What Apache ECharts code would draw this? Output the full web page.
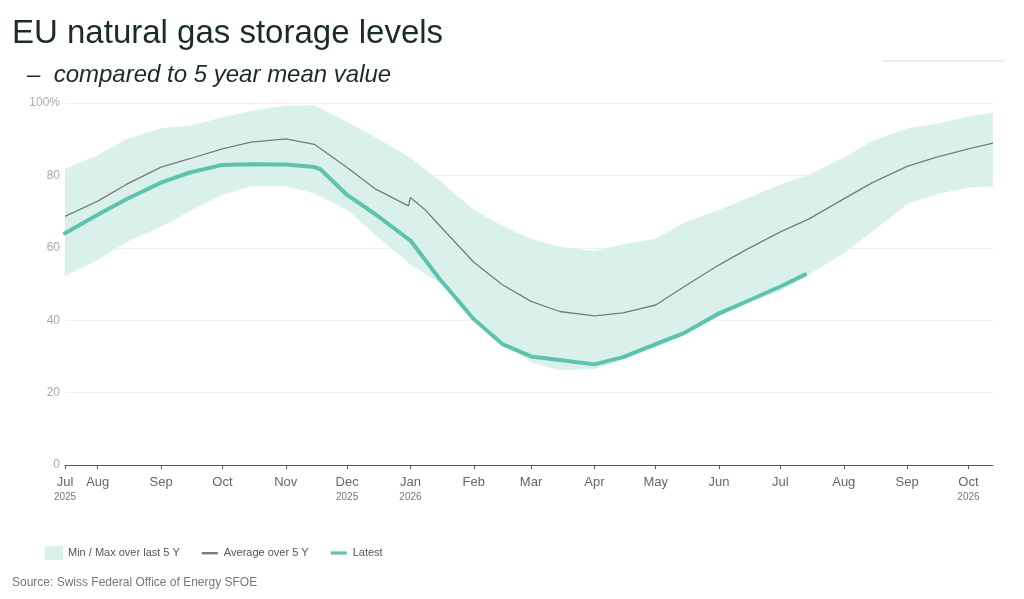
<!DOCTYPE html>
<html lang="en">

<head>
  <meta charset='utf-8'>
  <title>EU natural gas storage levels</title>
  <style>
    html, body { margin: 0; padding: 0; background: #fff; }
  </style>
</head>

<body>
  <div id="myCharts" style="width: 1024px;height:599px;"></div>
  <script src="https://cdn.jsdelivr.net/npm/echarts@6/dist/echarts.min.js"></script>
  <script type="text/javascript">
    // x axis range
    var axisStart = '2025-07-16';
    var axisEnd = '2026-10-13';
    // tick positions and labels on the x axis
    var tickDates = ['2025-07-16', '2025-08-01', '2025-09-01', '2025-10-01', '2025-11-01', '2025-12-01',
      '2026-01-01', '2026-02-01', '2026-03-01', '2026-04-01', '2026-05-01', '2026-06-01',
      '2026-07-01', '2026-08-01', '2026-09-01', '2026-10-01'];
    var tickMonths = ['Jul', 'Aug', 'Sep', 'Oct', 'Nov', 'Dec', 'Jan', 'Feb', 'Mar', 'Apr', 'May', 'Jun',
      'Jul', 'Aug', 'Sep', 'Oct'];
    var tickYears = ['2025', '', '', '', '', '2025', '2026', '', '', '', '', '', '', '', '', '2026'];

    // min / max band over last 5 years
    var bandDates = ['2025-07-16', '2025-08-01', '2025-08-15', '2025-09-01', '2025-09-15', '2025-10-01',
      '2025-10-15', '2025-11-01', '2025-11-15', '2025-12-01', '2025-12-15', '2026-01-01', '2026-01-15',
      '2026-02-01', '2026-02-15', '2026-03-01', '2026-03-15', '2026-04-01', '2026-04-15', '2026-05-01',
      '2026-05-15', '2026-06-01', '2026-06-15', '2026-07-01', '2026-07-15', '2026-08-01', '2026-08-15',
      '2026-09-01', '2026-09-15', '2026-10-01', '2026-10-13'];
    var bandMin = [52.3, 56.6, 61.5, 65.8, 70.0, 74.6, 77.0, 77.0, 75.0, 70.5, 63.5, 55.3, 50.5,
      41.5, 34.2, 28.3, 26.2, 26.5, 29.0, 32.5, 35.8, 41.0, 44.8, 48.0, 52.6, 58.5, 64.5,
      72.0, 74.8, 76.6, 77.0];
    var bandMax = [81.8, 85.6, 90.0, 93.0, 93.8, 96.0, 97.8, 99.3, 99.3, 94.8, 90.5, 84.9, 78.7,
      70.5, 66.0, 62.5, 60.3, 59.1, 61.0, 62.5, 67.0, 70.5, 73.7, 77.5, 80.2, 84.9, 89.5,
      93.0, 94.2, 96.3, 97.4];

    // average over 5 years
    var avgDates = ['2025-07-16', '2025-08-01', '2025-08-15', '2025-09-01', '2025-09-15', '2025-10-01',
      '2025-10-15', '2025-11-01', '2025-11-15', '2025-12-01', '2025-12-15', '2025-12-31', '2026-01-01',
      '2026-01-08', '2026-01-15', '2026-02-01', '2026-02-15', '2026-03-01', '2026-03-15', '2026-04-01',
      '2026-04-15', '2026-05-01', '2026-05-15', '2026-06-01', '2026-06-15', '2026-07-01', '2026-07-15',
      '2026-08-01', '2026-08-15', '2026-09-01', '2026-09-15', '2026-10-01', '2026-10-13'];
    var avgValues = [68.7, 72.9, 77.5, 82.3, 84.6, 87.3, 89.2, 90.1, 88.6, 82.2, 76.2, 71.6, 73.9,
      70.6, 66.3, 56.0, 49.8, 45.2, 42.4, 41.2, 42.0, 44.2, 49.3, 55.3, 59.7, 64.4, 68.0,
      73.5, 78.0, 82.5, 85.0, 87.3, 88.9];

    // latest storage level
    var latestDates = ['2025-07-16', '2025-08-01', '2025-08-15', '2025-09-01', '2025-09-15', '2025-10-01',
      '2025-10-15', '2025-11-01', '2025-11-15', '2025-11-18', '2025-12-01', '2025-12-15', '2026-01-01',
      '2026-01-15', '2026-02-01', '2026-02-15', '2026-03-01', '2026-03-15', '2026-04-01', '2026-04-15',
      '2026-05-01', '2026-05-15', '2026-06-01', '2026-06-15', '2026-07-01', '2026-07-13'];
    var latestValues = [64.0, 69.1, 73.4, 78.0, 80.8, 82.9, 83.1, 83.0, 82.3, 81.7, 74.6, 69.2, 62.0,
      51.6, 40.3, 33.4, 30.0, 29.0, 27.8, 29.8, 33.4, 36.5, 41.9, 45.3, 49.3, 52.6];

    var fontFamily = '"Liberation Sans", Arial, sans-serif';
    // short line used as legend icon (the zero-length ends fix the icon box)
    var lineIcon = 'path://M0,0L0,0M0,6L16,6L16,8.4L0,8.4ZM16,14L16,14';
    var thickLineIcon = 'path://M0,0L0,0M0,5.4L16,5.4L16,8.6L0,8.6ZM16,14L16,14';

    function ts(s) {
      var p = s.split('-');
      return Date.UTC(+p[0], +p[1] - 1, +p[2]);
    }

    function pairs(dates, values) {
      return dates.map(function (d, i) { return [ts(d), values[i]]; });
    }

    // label text for each tick
    var tickLabel = {};
    tickDates.forEach(function (d, i) {
      tickLabel[ts(d)] = tickYears[i] ? '{m|' + tickMonths[i] + '}\n{y|' + tickYears[i] + '}' : '{m|' + tickMonths[i] + '}';
    });

    var myChart = echarts.init(document.getElementById('myCharts'));

    var chartOption = {
      animation: false,
      backgroundColor: '#fff',
      textStyle: { fontFamily: fontFamily },
      title: [
        {
          text: 'EU natural gas storage levels',
          left: 7,
          top: 12,
          textStyle: { fontSize: 33, fontWeight: 'normal', color: '#1b2a2a', fontFamily: fontFamily }
        },
        {
          text: '\u2013  compared to 5 year mean value',
          left: 22,
          top: 58,
          textStyle: { fontSize: 24, fontWeight: 'normal', fontStyle: 'italic', color: '#1b2a2a', fontFamily: fontFamily }
        },
        {
          text: 'Source: Swiss Federal Office of Energy SFOE',
          left: 7,
          top: 572,
          textStyle: { fontSize: 12, fontWeight: 'normal', color: '#777', fontFamily: fontFamily }
        }
      ],
      legend: {
        left: 40,
        top: 541,
        itemWidth: 18,
        itemHeight: 14,
        itemGap: 22,
        textStyle: { fontSize: 11, color: '#555', fontFamily: fontFamily },
        data: [
          { name: 'Min / Max over last 5 Y', icon: 'rect' },
          { name: 'Average over 5 Y', icon: lineIcon },
          { name: 'Latest', icon: thickLineIcon }
        ]
      },
      graphic: [
        {
          type: 'line',
          shape: { x1: 882, y1: 61, x2: 1004, y2: 61 },
          style: { stroke: '#ececec', lineWidth: 2 }
        }
      ],
      grid: {
        left: 65,
        right: 31,
        top: 103,
        bottom: 134
      },
      xAxis: [
        {
          // time axis carrying the data
          type: 'time',
          min: ts(axisStart),
          max: ts(axisEnd),
          axisLine: { show: false },
          axisTick: { show: false },
          axisLabel: { show: false },
          splitLine: { show: false }
        },
        {
          // overlay axis drawing month ticks and labels
          type: 'value',
          position: 'bottom',
          min: ts(axisStart),
          max: ts(axisEnd),
          axisLine: { show: true, lineStyle: { color: '#555', width: 1 } },
          axisTick: {
            show: true,
            length: 4,
            lineStyle: { color: '#555' },
            customValues: tickDates.map(ts)
          },
          splitLine: { show: false },
          axisLabel: {
            customValues: tickDates.map(ts),
            margin: 9,
            hideOverlap: false,
            formatter: function (value) {
              return tickLabel[value] || '';
            },
            rich: {
              m: { fontSize: 13, color: '#666', fontFamily: fontFamily, lineHeight: 16 },
              y: { fontSize: 10, color: '#777', fontFamily: fontFamily, lineHeight: 14 }
            }
          }
        }
      ],
      yAxis: {
        type: 'value',
        min: 0,
        max: 100,
        interval: 20,
        axisLine: { show: false },
        axisTick: { show: false },
        splitLine: { lineStyle: { color: '#efefef', width: 1 } },
        axisLabel: {
          margin: 5,
          fontSize: 12,
          color: '#aaa',
          fontFamily: fontFamily,
          formatter: function (v) { return v === 100 ? '100%' : String(v); }
        }
      },
      series: [
        {
          name: 'band-min',
          type: 'line',
          stack: 'band',
          symbol: 'none',
          silent: true,
          lineStyle: { opacity: 0 },
          data: pairs(bandDates, bandMin)
        },
        {
          name: 'Min / Max over last 5 Y',
          type: 'line',
          stack: 'band',
          symbol: 'none',
          silent: true,
          itemStyle: { color: '#daf1eb' },
          lineStyle: { opacity: 0 },
          areaStyle: { color: '#daf1eb', opacity: 1 },
          data: pairs(bandDates, bandMax.map(function (v, i) { return +(v - bandMin[i]).toFixed(1); }))
        },
        {
          name: 'Average over 5 Y',
          type: 'line',
          symbol: 'none',
          itemStyle: { color: '#7b7b7b' },
          lineStyle: { color: '#7b7b7b', width: 1.3 },
          data: pairs(avgDates, avgValues)
        },
        {
          name: 'Latest',
          type: 'line',
          symbol: 'none',
          itemStyle: { color: '#5cc4ae' },
          lineStyle: { color: '#5cc4ae', width: 4, cap: 'round', join: 'round' },
          data: pairs(latestDates, latestValues)
        }
      ]
    };

    myChart.setOption(chartOption);
  </script>
</body>

</html>
